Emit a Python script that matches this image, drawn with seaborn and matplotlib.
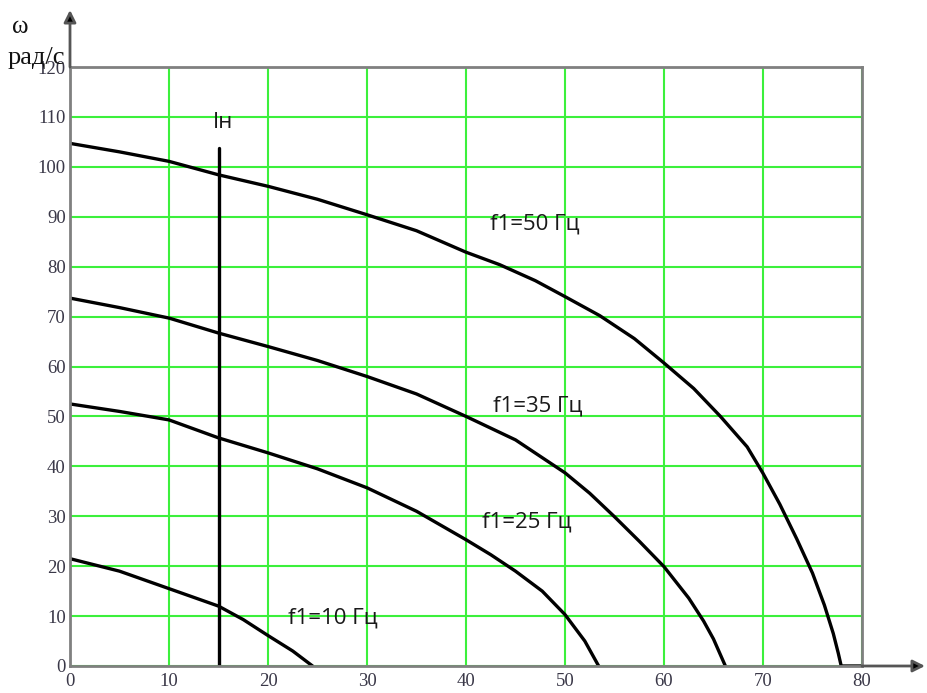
import matplotlib
matplotlib.use("Agg")
import matplotlib.pyplot as plt
import seaborn as sns
import pandas as pd

# Speed-current characteristics of the drive at different supply frequencies
freq_labels = ["f1=50 Гц", "f1=35 Гц", "f1=25 Гц", "f1=10 Гц"]

i_50 = [0, 5, 10, 15, 20, 25, 30, 35, 40, 43.4, 47, 50, 53.5, 57, 60, 63, 65.7,
        68.4, 70, 71.7, 73.4, 75, 76.2, 77.1, 77.6, 77.9, 80]
w_50 = [104.7, 103, 101.1, 98.4, 96.1, 93.5, 90.4, 87.2, 82.9, 80.4, 77.2, 74.0,
        70.2, 65.6, 60.7, 55.6, 50.0, 43.9, 38.6, 32.4, 25.5, 18.6, 12.2, 6.5, 2.6, 0, 0]

i_35 = [0, 5, 10, 15, 20, 25, 30, 35, 40, 45, 50, 52.5, 55, 57.5, 60, 62.5, 64, 65, 66.2]
w_35 = [73.7, 71.8, 69.7, 66.7, 64.0, 61.2, 58.0, 54.5, 50.0, 45.3, 38.7, 34.6, 29.9,
        25.0, 19.9, 13.6, 9.0, 5.4, 0]

i_25 = [0, 5, 10, 15, 20, 25, 30, 35, 40, 42.5, 45, 47.7, 50, 52.0, 53.4]
w_25 = [52.5, 51.0, 49.3, 45.7, 42.7, 39.5, 35.7, 31.0, 25.3, 22.3, 19.0, 15.0, 10.3, 5.0, 0]

i_10 = [0, 5, 10, 15, 17.5, 20, 22.5, 24.5]
w_10 = [21.5, 19.0, 15.5, 12.0, 9.3, 6.1, 3.0, 0]

# Rated current marker
i_nom = 15
i_nom_top = 103.8

x_ticks = [0, 10, 20, 30, 40, 50, 60, 70, 80]
y_ticks = [0, 10, 20, 30, 40, 50, 60, 70, 80, 90, 100, 110, 120]

# Label anchor positions (data units, left edge / vertical centre)
label_pos = [(42.4, 88.6), (42.7, 52.0), (41.6, 28.9), (22.0, 9.6)]

frames = []
for name, xs, ys in zip(freq_labels, [i_50, i_35, i_25, i_10], [w_50, w_35, w_25, w_10]):
    frames.append(pd.DataFrame({"I": xs, "w": ys, "curve": name}))
df = pd.concat(frames, ignore_index=True)

sns.set_style("white")
plt.rcParams["font.family"] = ["DejaVu Sans"]

fig = plt.figure(figsize=(9.27, 6.93), dpi=100)
ax = fig.add_axes([70 / 927, 1 - 666 / 693, (862 - 70) / 927, (666 - 67) / 693])

grid_green = "#3cf03c"
frame_grey = "#808080"

ax.set_xlim(0, 80)
ax.set_ylim(0, 120)
ax.set_xticks(x_ticks)
ax.set_yticks(y_ticks)
ax.grid(True, color=grid_green, linewidth=1.5)
ax.set_axisbelow(True)

for spine in ax.spines.values():
    spine.set_color(frame_grey)
    spine.set_linewidth(2)

sns.lineplot(data=df, x="I", y="w", units="curve", estimator=None, sort=False,
             color="black", linewidth=2.4, ax=ax, legend=False)

ax.plot([i_nom, i_nom], [0, i_nom_top], color="black", linewidth=2.4)
ax.text(i_nom + 0.5, 108.8, "Iн", family="Open Sans", fontsize=16,
        color="#1a1a1a", ha="center", va="center")

for name, (lx, ly) in zip(freq_labels, label_pos):
    ax.text(lx, ly, name, family="Open Sans", fontsize=16, color="#1a1a1a",
            ha="left", va="center")

tick_color = "#3a3848"
ax.tick_params(axis="both", length=0, labelsize=13.5, labelcolor=tick_color)
ax.tick_params(axis="x", pad=5)
ax.tick_params(axis="y", pad=3)
for lbl in ax.get_xticklabels() + ax.get_yticklabels():
    lbl.set_family("Liberation Serif")
ax.set_xlabel("")
ax.set_ylabel("")

# Arrowed axes extending past the plotting frame
ax.annotate("", xy=(925 / 927, 1 - 666 / 693), xytext=(862 / 927, 1 - 666 / 693),
            xycoords="figure fraction",
            arrowprops=dict(arrowstyle="-|>", color=frame_grey, lw=2,
                            mutation_scale=18, shrinkA=0, shrinkB=0, fc="black", ec="#555555"))
ax.annotate("", xy=(70 / 927, 1 - 10 / 693), xytext=(70 / 927, 1 - 67 / 693),
            xycoords="figure fraction",
            arrowprops=dict(arrowstyle="-|>", color=frame_grey, lw=2,
                            mutation_scale=18, shrinkA=0, shrinkB=0, fc="black", ec="#555555"))

fig.text(12 / 927, 1 - 27 / 693, "ω", family="Liberation Serif", fontsize=18,
         color="#111111", ha="left", va="center")
fig.text(8 / 927, 1 - 58 / 693, "рад/с", family="Liberation Serif", fontsize=19,
         color="#111111", ha="left", va="center")

fig.savefig("out.png", dpi=100)
